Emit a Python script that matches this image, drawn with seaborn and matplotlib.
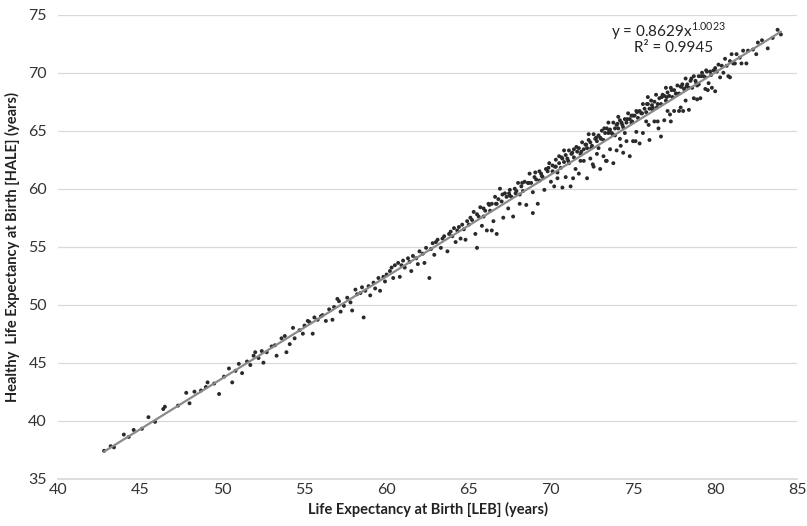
import matplotlib.pyplot as plt
import numpy as np
import pandas as pd
import seaborn as sns

# Life expectancy at birth (LEB) and healthy life expectancy (HALE)
leb_40s = [42.8, 43.2, 43.4, 44.0, 44.3, 44.6, 45.1, 45.5, 45.9, 46.4, 46.5, 47.3,
           47.8, 48.0, 48.3, 48.7, 49.0, 49.1, 49.5, 49.8, 50.1]
hale_40s = [37.4, 37.8, 37.7, 38.8, 38.6, 39.2, 39.3, 40.3, 39.9, 41.0, 41.2, 41.3,
            42.4, 41.5, 42.5, 42.6, 42.9, 43.3, 43.2, 42.3, 43.8]

leb_50s = [50.4, 50.6, 50.8, 51.0, 51.2, 51.5, 51.7, 51.9, 52.0, 52.2, 52.4, 52.5, 52.7,
           53.0, 53.2, 53.3, 53.6, 53.8, 53.9, 54.1, 54.3, 54.4, 54.7, 54.9, 55.0,
           55.2, 55.3, 55.5, 55.6, 55.8, 56.0, 56.1, 56.3, 56.5, 56.7, 56.8, 57.0,
           57.1, 57.2, 57.4, 57.6, 57.8, 57.9, 58.1, 58.2, 58.4, 58.5, 58.6, 58.7,
           58.9, 59.0, 59.2, 59.3, 59.5, 59.6, 59.8, 59.9, 60.0]
hale_50s = [44.5, 43.3, 44.3, 44.9, 44.1, 45.1, 44.8, 45.6, 45.9, 45.4, 46.0, 45.0, 45.9,
            46.4, 46.5, 45.6, 47.1, 47.3, 45.9, 46.6, 48.0, 47.1, 47.8, 47.5, 48.2,
            48.6, 48.5, 47.5, 48.9, 48.7, 49.0, 49.1, 48.6, 49.6, 48.7, 49.8, 50.5,
            50.3, 49.4, 49.9, 50.6, 50.2, 49.5, 51.3, 50.9, 51.0, 51.5, 48.9, 51.2,
            51.6, 50.8, 51.9, 51.4, 52.3, 51.2, 52.4, 52.0, 52.6]

leb_60s = [60.2, 60.3, 60.4, 60.5, 60.7, 60.8, 60.9, 61.0, 61.1, 61.3, 61.4, 61.5, 61.6,
           61.8, 61.9, 62.0, 62.2, 62.3, 62.4, 62.6, 62.7, 62.8, 62.9, 63.0, 63.1,
           63.3, 63.4, 63.5, 63.7, 63.8, 63.9, 64.0, 64.1, 64.2, 64.3, 64.4, 64.5,
           64.6, 64.7, 64.8, 64.9, 65.0,
           65.1, 65.2, 65.3, 65.4, 65.5, 65.5, 65.6, 65.7, 65.8, 65.9, 66.0, 66.1,
           66.2, 66.3, 66.4, 66.5, 66.6, 66.7, 66.7, 66.8, 66.9, 67.0, 67.1, 67.2,
           67.3, 67.4, 67.5, 67.6, 67.7, 67.8, 67.9, 68.0, 68.1, 68.2, 68.3, 68.4,
           68.5, 68.6, 68.7, 68.8, 68.9, 69.0, 69.1, 69.2, 69.3, 69.4, 69.5, 69.6,
           69.7, 69.8, 69.9, 70.0, 65.9, 67.5, 68.1, 69.3, 66.4, 68.9]
hale_60s = [52.9, 53.2, 52.3, 53.4, 53.6, 52.4, 53.4, 53.8, 53.2, 54.0, 53.7, 52.9, 54.2,
            54.0, 53.5, 54.6, 54.4, 53.6, 54.9, 52.3, 54.8, 55.3, 54.3, 55.4, 55.6,
            54.9, 55.7, 55.9, 54.6, 56.1, 56.3, 55.9, 56.6, 55.4, 56.4, 56.7, 55.7,
            56.9, 56.5, 55.6, 57.2, 56.9,
            57.5, 57.3, 58.0, 56.1, 54.9, 57.8, 57.6, 58.4, 56.8, 58.3, 58.1, 56.4,
            58.7, 58.1, 58.7, 57.2, 59.3, 56.1, 58.7, 59.1, 60.0, 58.9, 57.5, 59.6,
            59.3, 58.3, 59.9, 59.3, 57.6, 60.0, 59.8, 60.5, 58.7, 60.2, 59.8, 60.6,
            58.6, 60.5, 61.3, 60.5, 59.7, 61.0, 60.8, 58.7, 61.5, 61.3, 61.0, 59.9,
            61.7, 61.5, 62.2, 60.6, 57.6, 59.4, 59.5, 60.7, 56.4, 57.9]

leb_70s = [70.1, 70.1, 70.2, 70.3, 70.3, 70.4, 70.5, 70.5, 70.6, 70.7, 70.7, 70.8, 70.9,
           70.9, 71.0, 71.1, 71.1, 71.2, 71.3, 71.4, 71.4, 71.5, 71.6, 71.7, 71.7,
           71.8, 71.9, 72.0, 72.0, 72.1, 72.2, 72.2, 72.3, 72.4, 72.4, 72.5, 72.6,
           72.6, 72.7, 72.8, 72.8, 72.9, 73.0, 73.0, 73.1, 73.2, 73.2, 73.3, 73.4,
           73.4, 73.5, 73.6, 73.6, 73.7, 73.8, 73.8, 73.9, 74.0, 74.0, 74.1, 74.2,
           74.2, 74.3, 74.4, 74.4, 74.5, 74.6, 74.6, 74.7, 74.8, 74.8, 74.9, 74.9,
           75.0, 75.0, 70.4, 71.8, 72.9, 73.9, 74.5, 70.8, 72.3, 73.5, 74.1,
           75.1, 75.2, 75.2, 75.3, 75.4, 75.4, 75.5, 75.6, 75.6, 75.7, 75.8, 75.8,
           75.9, 76.0, 76.0, 76.1, 76.2, 76.3, 76.3, 76.4, 76.5, 76.5, 76.6, 76.7,
           76.7, 76.8, 76.9, 76.9, 77.0, 77.1, 77.1, 77.2, 77.3, 77.3, 77.4, 77.5,
           77.5, 77.6, 77.7, 77.8, 77.8, 77.9, 77.9, 78.0, 78.1, 78.2, 78.2, 78.3,
           78.4, 78.4, 78.5, 78.6, 78.7, 78.7, 78.8, 78.9, 79.0, 79.0, 79.1, 79.2,
           79.3, 79.4, 79.4, 79.5, 79.6, 79.7, 79.8, 79.9, 80.0, 80.0,
           75.9, 77.0, 76.2, 78.9]
hale_70s = [62.0, 61.5, 60.2, 62.5, 61.9, 60.9, 62.2, 62.8, 61.8, 60.1, 62.6, 62.3, 62.9,
            61.0, 62.6, 63.3, 62.2, 60.2, 63.1, 62.7, 63.4, 61.7, 63.2, 63.5, 61.3,
            63.0, 64.0, 63.4, 62.4, 63.8, 60.9, 63.5, 64.2, 64.0, 62.6, 63.7, 64.7,
            61.9, 64.3, 64.1, 63.0, 64.6, 64.4, 61.7, 65.0, 64.2, 62.8, 64.8, 65.2,
            62.4, 64.8, 65.1, 63.4, 64.8, 65.7, 62.2, 65.2, 65.5, 63.3, 65.2, 65.9,
            64.3, 65.7, 63.1, 65.3, 66.0, 65.7, 64.1, 66.5, 66.0, 62.8, 65.7, 66.3,
            64.1, 66.3, 61.4, 62.4, 63.5, 64.6, 64.8, 63.3, 64.7, 65.7, 66.2,
            66.3, 66.7, 64.9, 66.1, 66.7, 63.9, 66.5, 67.3, 64.8, 66.9, 66.6, 65.8,
            67.3, 66.9, 64.2, 67.6, 67.0, 65.8, 67.5, 68.1, 65.8, 67.3, 67.8, 64.5,
            67.3, 68.1, 65.9, 68.0, 67.6, 68.3, 66.7, 68.0, 65.8, 68.7, 67.9, 68.5,
            66.7, 68.2, 68.9, 66.7, 68.2, 68.8, 67.0, 69.0, 68.6, 67.6, 69.5, 69.0,
            66.8, 68.7, 69.3, 68.7, 67.8, 69.7, 69.3, 67.7, 69.7, 69.0, 67.8, 70.0,
            69.7, 68.6, 69.6, 70.1, 69.1, 70.1, 68.7, 70.2, 68.4, 70.4,
            67.9, 68.7, 66.8, 68.9]

# extra points in the crowded band between 66 and 80 years
leb_band = [66.25, 66.65, 67.05, 67.45, 67.85, 68.25, 68.65, 69.05, 69.45, 69.85,
            70.25, 70.65, 71.05, 71.25, 71.55, 71.85, 72.15, 72.45, 72.75, 73.05,
            73.25, 73.55, 73.75, 74.05, 74.35, 74.65, 74.95, 75.25, 75.55, 75.85,
            76.15, 76.45, 76.75, 77.05, 77.35, 77.65, 77.95, 78.25, 78.55, 78.85,
            79.15, 79.45, 79.75, 71.35, 72.55, 73.35, 74.25, 75.15, 75.95, 76.55,
            77.25, 78.05, 79.55]
hale_band = [58.6, 58.7, 59.5, 59.6, 59.6, 60.5, 60.5, 61.4, 61.1, 61.8,
             61.9, 62.7, 62.4, 63.0, 63.6, 63.2, 63.8, 63.5, 64.4, 64.3,
             65.2, 65.0, 64.7, 65.6, 65.5, 66.0, 65.8, 66.6, 66.5, 67.3,
             67.2, 67.0, 67.9, 67.9, 68.5, 68.2, 68.8, 68.8, 69.5, 69.1,
             69.7, 70.2, 69.8, 60.9, 62.1, 62.4, 63.7, 64.1, 65.5, 65.2,
             66.4, 66.7, 68.5]

leb_80s = [80.1, 80.2, 80.3, 80.4, 80.5, 80.6, 80.7, 80.8, 80.9, 80.9, 81.0, 81.1, 81.2,
           81.3, 81.5, 81.6, 81.7, 81.9, 82.0, 82.3, 82.5, 82.6, 82.85, 83.2, 83.5,
           83.8, 84.0]
hale_80s = [70.1, 70.7, 69.6, 70.6, 70.0, 71.2, 70.6, 69.7, 69.6, 71.0, 71.6, 70.8, 70.8,
            71.6, 71.3, 70.8, 71.9, 70.8, 71.9, 72.0, 71.6, 72.6, 72.8, 72.1, 73.0,
            73.7, 73.3]

df = pd.DataFrame({
    'LEB': leb_40s + leb_50s + leb_60s + leb_70s + leb_band + leb_80s,
    'HALE': hale_40s + hale_50s + hale_60s + hale_70s + hale_band + hale_80s,
})

# power trendline y = a * x^b, fitted in log space
b, log_a = np.polyfit(np.log(df['LEB']), np.log(df['HALE']), 1)
trend = pd.DataFrame({'LEB': np.linspace(df['LEB'].min(), df['LEB'].max(), 50)})
trend['HALE'] = np.exp(log_a) * trend['LEB'] ** b

sns.set_theme(style='white')
plt.rcParams['font.family'] = ['Lato', 'DejaVu Sans']
plt.rcParams['mathtext.fontset'] = 'custom'
plt.rcParams['mathtext.rm'] = 'Lato'

fig = plt.figure(figsize=(8.07, 5.26), dpi=100)
ax = fig.add_axes([0.072, 0.09, 0.916, 0.882])

sns.scatterplot(data=df, x='LEB', y='HALE', ax=ax, s=8, color='#2a2a2a',
                edgecolor='none', zorder=3)
sns.lineplot(data=trend, x='LEB', y='HALE', ax=ax, color='#8a8a8a', lw=1.6, zorder=4)

ax.set_xlim(40, 85)
ax.set_ylim(35, 75)
ax.set_xticks(range(40, 86, 5))
ax.set_yticks(range(35, 76, 5))
ax.yaxis.grid(True, color='#d9d9d9', lw=0.9)
ax.xaxis.grid(False)
for side in ['left', 'right', 'top']:
    ax.spines[side].set_visible(False)
ax.spines['bottom'].set_color('#d9d9d9')
ax.tick_params(axis='both', length=0, labelsize=11.5, colors='#333333')
ax.tick_params(axis='y', pad=8)
ax.tick_params(axis='x', pad=3)

ax.set_xlabel('Life Expectancy at Birth [LEB] (years)', fontsize=10.5,
              fontweight='bold', color='#222222', labelpad=4)
ax.set_ylabel('Healthy  Life Expectancy at Birth [HALE] (years)', fontsize=10.5,
              fontweight='bold', color='#222222', labelpad=6)

ax.text(0.826, 0.965, 'y = 0.8629x$^{1.0023}$', transform=ax.transAxes,
        ha='center', va='center', fontsize=11, color='#222222')
ax.text(0.832, 0.928, 'R² = 0.9945', transform=ax.transAxes,
        ha='center', va='center', fontsize=11, color='#222222')

plt.savefig('out.png', dpi=100)
plt.close()
